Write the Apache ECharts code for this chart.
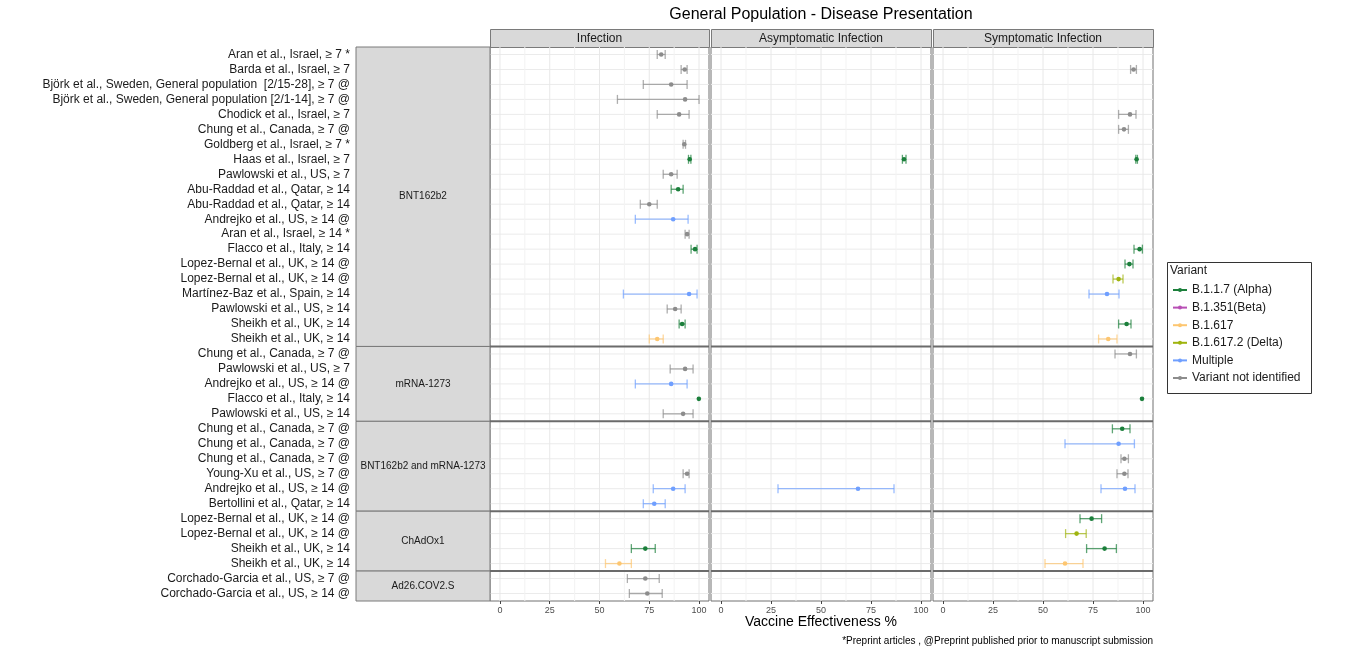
<!DOCTYPE html>
<html>
<head>
<meta charset="utf-8">
<title>General Population - Disease Presentation</title>
<script src="https://cdn.jsdelivr.net/npm/echarts@6/dist/echarts.min.js"></script>
<style>
    html, body { margin: 0; padding: 0; background: #fff; }
    #chart { width: 1348px; height: 650px; }
</style>
</head>
<body>
<div id="chart"></div>
<script>
    // study labels, top to bottom
    const studies = [
        'Aran et al., Israel, \u2265 7 *',
        'Barda et al., Israel, \u2265 7',
        'Bj\u00f6rk et al., Sweden, General population  [2/15-28], \u2265 7 @',
        'Bj\u00f6rk et al., Sweden, General population [2/1-14], \u2265 7 @',
        'Chodick et al., Israel, \u2265 7',
        'Chung et al., Canada, \u2265 7 @',
        'Goldberg et al., Israel, \u2265 7 *',
        'Haas et al., Israel, \u2265 7',
        'Pawlowski et al., US, \u2265 7',
        'Abu-Raddad et al., Qatar, \u2265 14',
        'Abu-Raddad et al., Qatar, \u2265 14',
        'Andrejko et al., US, \u2265 14 @',
        'Aran et al., Israel, \u2265 14 *',
        'Flacco et al., Italy, \u2265 14',
        'Lopez-Bernal et al., UK, \u2265 14 @',
        'Lopez-Bernal et al., UK, \u2265 14 @',
        'Mart\u00ednez-Baz et al., Spain, \u2265 14',
        'Pawlowski et al., US, \u2265 14',
        'Sheikh et al., UK, \u2265 14',
        'Sheikh et al., UK, \u2265 14',
        'Chung et al., Canada, \u2265 7 @',
        'Pawlowski et al., US, \u2265 7',
        'Andrejko et al., US, \u2265 14 @',
        'Flacco et al., Italy, \u2265 14',
        'Pawlowski et al., US, \u2265 14',
        'Chung et al., Canada, \u2265 7 @',
        'Chung et al., Canada, \u2265 7 @',
        'Chung et al., Canada, \u2265 7 @',
        'Young-Xu et al., US, \u2265 7 @',
        'Andrejko et al., US, \u2265 14 @',
        'Bertollini et al., Qatar, \u2265 14',
        'Lopez-Bernal et al., UK, \u2265 14 @',
        'Lopez-Bernal et al., UK, \u2265 14 @',
        'Sheikh et al., UK, \u2265 14',
        'Sheikh et al., UK, \u2265 14',
        'Corchado-Garcia et al., US, \u2265 7 @',
        'Corchado-Garcia et al., US, \u2265 14 @'
    ];

    const vaccines = ['BNT162b2', 'mRNA-1273', 'BNT162b2 and mRNA-1273', 'ChAdOx1', 'Ad26.COV2.S'];
    const vaccineRows = [20, 5, 6, 4, 2];

    const panels = ['Infection', 'Asymptomatic Infection', 'Symptomatic Infection'];
    const variants = ['B.1.1.7 (Alpha)', 'B.1.351(Beta)', 'B.1.617', 'B.1.617.2 (Delta)', 'Multiple', 'Variant not identified'];
    const xTicks = [0, 25, 50, 75, 100];
    const xGrid = [0, 12.5, 25, 37.5, 50, 62.5, 75, 87.5, 100];

    // [study row, variant, estimate, lower, upper]
    const infection = [
        [0, 5, 81, 79, 83],
        [1, 5, 92.8, 91, 94],
        [2, 5, 86, 72, 94],
        [3, 5, 93, 59, 100],
        [4, 5, 90, 79, 95],
        [6, 5, 92.6, 92, 93.2],
        [7, 0, 95.3, 94.7, 95.9],
        [8, 5, 86, 82, 89],
        [9, 0, 89.5, 86, 92],
        [10, 5, 75, 70.5, 79],
        [11, 4, 87, 68, 94.5],
        [12, 5, 94, 93, 95],
        [13, 0, 98, 96, 99],
        [16, 4, 95, 62, 99],
        [17, 5, 88, 84, 91],
        [18, 0, 91.5, 90, 93],
        [19, 2, 79, 75, 82],
        [21, 5, 93, 85.5, 97],
        [22, 4, 86, 68, 94],
        [23, 0, 99.9, null, null],
        [24, 5, 92, 82, 97],
        [28, 5, 94, 92, 95],
        [29, 4, 87, 77, 93],
        [30, 4, 77.5, 72, 83],
        [33, 0, 73, 66, 78],
        [34, 2, 60, 53, 66],
        [35, 5, 73, 64, 80],
        [36, 5, 74, 65, 81.5]
    ];
    const asymptomatic = [
        [7, 0, 91.5, 90.7, 92.5],
        [29, 4, 68.5, 28.5, 86.5]
    ];
    const symptomatic = [
        [1, 5, 95.3, 93.8, 96.7],
        [4, 5, 93.5, 87.8, 96.5],
        [5, 5, 90.5, 87.8, 92.7],
        [7, 0, 96.8, 96.4, 97.2],
        [13, 0, 98.3, 95.5, 99.7],
        [14, 0, 93.2, 91, 95],
        [15, 3, 87.8, 85, 90],
        [16, 4, 82, 73, 88],
        [18, 0, 91.8, 87.8, 94],
        [19, 2, 82.6, 77.8, 87],
        [20, 5, 93.5, 86, 96.7],
        [23, 0, 99.5, null, null],
        [25, 0, 89.6, 84.7, 93.5],
        [26, 4, 87.8, 61, 95.7],
        [27, 5, 90.7, 89, 92.7],
        [28, 5, 90.7, 87, 92.5],
        [29, 4, 91, 79, 96],
        [31, 0, 74.3, 68.5, 79.3],
        [32, 3, 66.8, 61.3, 71.6],
        [33, 0, 80.8, 71.8, 86.7],
        [34, 2, 61, 51, 70]
    ];
    const panelData = [infection, asymptomatic, symptomatic];

    const variantColors = ['#1b7f3b', '#b84fb5', '#fdc670', '#9fb40e', '#6f9fff', '#8c8c8c'];

    // layout
    const TOP = 47, HEIGHT = 554;
    const panelLeft = [490, 711, 933];
    const panelWidth = [219, 220, 220];
    const FONT = 'Liberation Sans, Arial, sans-serif';

    var myChart = echarts.init(document.getElementById('chart'));

    var grids = [], xAxes = [], yAxes = [], series = [];

    panels.forEach(function (p, i) {
        grids.push({
            left: panelLeft[i], top: TOP, width: panelWidth[i], height: HEIGHT,
            show: true, borderColor: '#707070', borderWidth: 1, backgroundColor: '#fff'
        });
        xAxes.push({
            type: 'value', gridIndex: i, min: -5, max: 105,
            splitLine: { show: false },
            axisLine: { show: false },
            axisTick: { show: true, customValues: xTicks, length: 3, lineStyle: { color: '#444' } },
            axisLabel: { customValues: xTicks, fontSize: 9, color: '#4d4d4d', margin: 5, fontFamily: FONT }
        });
        yAxes.push({
            type: 'category', gridIndex: i, inverse: true, data: studies,
            axisLine: { show: false }, axisTick: { show: false }, splitLine: { show: false },
            axisLabel: i === 0 ? { show: true, interval: 0, margin: 140, fontSize: 12, color: '#1a1a1a', fontFamily: FONT } : { show: false }
        });

        // horizontal gridlines at each study
        series.push({
            type: 'custom', xAxisIndex: i, yAxisIndex: i, z: 1, silent: true,
            data: studies.map(function (s, k) { return [0, k]; }),
            renderItem: function (params, api) {
                var cs = params.coordSys;
                var y = api.coord([0, params.dataIndex])[1];
                return { type: 'line', shape: { x1: cs.x, y1: y, x2: cs.x + cs.width, y2: y }, style: { stroke: '#ebebeb', lineWidth: 1 } };
            }
        });
        // vertical gridlines
        series.push({
            type: 'custom', xAxisIndex: i, yAxisIndex: i, z: 1, silent: true,
            data: xGrid.map(function (v) { return [v, 0]; }),
            renderItem: function (params, api) {
                var cs = params.coordSys;
                var v = xGrid[params.dataIndex];
                var x = api.coord([v, 0])[0];
                return { type: 'line', shape: { x1: x, y1: cs.y, x2: x, y2: cs.y + cs.height }, style: { stroke: v % 25 === 0 ? '#e8e8e8' : '#f3f3f3', lineWidth: 1 } };
            }
        });
        // separators between vaccine groups
        var bounds = [], acc = 0;
        vaccineRows.slice(0, -1).forEach(function (n) { acc += n; bounds.push(acc); });
        series.push({
            type: 'custom', xAxisIndex: i, yAxisIndex: i, z: 3, silent: true,
            data: bounds.map(function (b) { return [0, b]; }),
            renderItem: function (params, api) {
                var cs = params.coordSys;
                var b = bounds[params.dataIndex];
                var y = api.coord([0, b])[1] - api.size([0, 1])[1] / 2;
                return { type: 'line', shape: { x1: cs.x, y1: y, x2: cs.x + cs.width, y2: y }, style: { stroke: '#6b6b6b', lineWidth: 2 } };
            }
        });
        // estimates with confidence intervals
        var rows = panelData[i];
        series.push({
            type: 'custom', name: p, xAxisIndex: i, yAxisIndex: i, z: 5,
            data: rows.map(function (r) { return [r[2], r[0]]; }),
            renderItem: function (params, api) {
                var r = rows[params.dataIndex];
                var color = variantColors[r[1]];
                var c = api.coord([r[2], r[0]]);
                var cap = api.size([0, 1])[1] * 0.3;
                var children = [];
                if (r[3] !== null) {
                    var lo = api.coord([r[3], r[0]])[0], hi = api.coord([r[4], r[0]])[0];
                    var st = { stroke: color, lineWidth: 1.3, opacity: 0.7 };
                    children.push({ type: 'line', shape: { x1: lo, y1: c[1], x2: hi, y2: c[1] }, style: st });
                    children.push({ type: 'line', shape: { x1: lo, y1: c[1] - cap, x2: lo, y2: c[1] + cap }, style: st });
                    children.push({ type: 'line', shape: { x1: hi, y1: c[1] - cap, x2: hi, y2: c[1] + cap }, style: st });
                }
                children.push({ type: 'circle', shape: { cx: c[0], cy: c[1], r: 2.3 }, style: { fill: color } });
                return { type: 'group', children: children };
            }
        });
    });

    // left strip with vaccine names
    grids.push({ left: 356, top: TOP, width: 134, height: HEIGHT, show: false });
    xAxes.push({ type: 'value', gridIndex: 3, min: 0, max: 1, show: false });
    yAxes.push({ type: 'category', gridIndex: 3, inverse: true, data: studies, show: false });
    var starts = [], s0 = 0;
    vaccineRows.forEach(function (n) { starts.push(s0); s0 += n; });
    series.push({
        type: 'custom', xAxisIndex: 3, yAxisIndex: 3, z: 2, silent: true,
        data: vaccines.map(function (v, k) { return [0, starts[k]]; }),
        renderItem: function (params, api) {
            var k = params.dataIndex;
            var cs = params.coordSys;
            var band = api.size([0, 1])[1];
            var y1 = api.coord([0, starts[k]])[1] - band / 2;
            var y2 = api.coord([0, starts[k] + vaccineRows[k] - 1])[1] + band / 2;
            return {
                type: 'group', children: [
                    { type: 'rect', shape: { x: cs.x, y: y1, width: cs.width, height: y2 - y1 }, style: { fill: '#d9d9d9', stroke: '#7a7a7a', lineWidth: 1 } },
                    { type: 'text', style: { text: vaccines[k], x: cs.x + cs.width / 2, y: (y1 + y2) / 2, align: 'center', verticalAlign: 'middle', fontSize: 10, fill: '#1a1a1a', fontFamily: FONT } }
                ]
            };
        }
    });

    // legend series (no data)
    variants.forEach(function (v, k) {
        series.push({
            type: 'line', name: v, xAxisIndex: 0, yAxisIndex: 0, data: [],
            symbol: 'circle', itemStyle: { color: variantColors[k] }, lineStyle: { color: variantColors[k], width: 1.2 }
        });
    });

    // panel headers, titles, legend frame
    var graphics = [];
    panels.forEach(function (p, i) {
        graphics.push({ type: 'rect', left: panelLeft[i], top: 29, shape: { width: panelWidth[i], height: 18 }, style: { fill: '#d9d9d9', stroke: '#7a7a7a', lineWidth: 1 } });
        graphics.push({ type: 'text', x: panelLeft[i] + panelWidth[i] / 2, y: 38.5, style: { text: p, align: 'center', verticalAlign: 'middle', fontSize: 12, fill: '#1a1a1a', fontFamily: FONT } });
    });
    graphics.push({ type: 'text', x: 821, y: 15, style: { text: 'General Population - Disease Presentation', align: 'center', verticalAlign: 'middle', fontSize: 16, fill: '#000', fontFamily: FONT } });
    graphics.push({ type: 'text', x: 821, y: 622, style: { text: 'Vaccine Effectiveness %', align: 'center', verticalAlign: 'middle', fontSize: 14, fill: '#000', fontFamily: FONT } });
    graphics.push({ type: 'text', x: 1153, y: 641, style: { text: '*Preprint articles , @Preprint published prior to manuscript submission', align: 'right', verticalAlign: 'middle', fontSize: 10, fill: '#000', fontFamily: FONT } });
    graphics.push({ type: 'rect', left: 1165, top: 260, shape: { width: 144, height: 131 }, style: { fill: 'none', stroke: '#333', lineWidth: 1 } });
    graphics.push({ type: 'text', x: 1170, y: 271, style: { text: 'Variant', align: 'left', verticalAlign: 'middle', fontSize: 12, fill: '#1a1a1a', fontFamily: FONT } });

    const option = {
        animation: false,
        backgroundColor: '#fff',
        grid: grids,
        xAxis: xAxes,
        yAxis: yAxes,
        series: series,
        legend: {
            data: variants, orient: 'vertical', left: 1172, top: 283, padding: 0,
            itemWidth: 14, itemHeight: 5, itemGap: 3.6, selectedMode: false,
            textStyle: { fontSize: 12, color: '#1a1a1a', lineHeight: 14, fontFamily: FONT }
        },
        graphic: graphics
    };
    myChart.setOption(option);
</script>
</body>
</html>
